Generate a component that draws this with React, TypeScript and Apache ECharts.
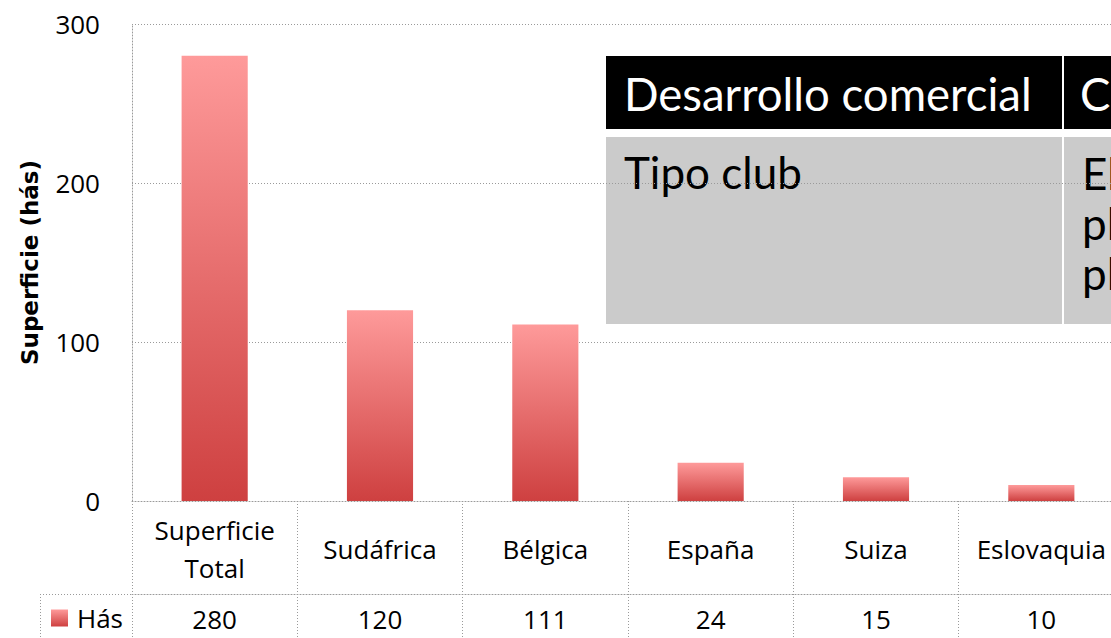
import React, { useEffect, useRef } from "react";
import * as echarts from "echarts";

const categories = ["Superficie\nTotal", "Sudáfrica", "Bélgica", "España", "Suiza", "Eslovaquia"];
const hasValues = [280, 120, 111, 24, 15, 10];
const yTicks = { min: 0, max: 300, interval: 100 };
const seriesName = "Hás";
const yTitle = "Superficie (hás)";
const overlayHeader = ["Desarrollo comercial", "Co"];
const overlayRow = ["Tipo club", "El\npl\npl"];

const FONT = "'Open Sans', Lato, sans-serif";
const BIG = "Lato, 'Open Sans', sans-serif";
const GRID = "#9a9a9a";

export default function App() {
  const ref = useRef<HTMLDivElement>(null);
  useEffect(() => {
    if (!ref.current) return;
    const chart = echarts.init(ref.current, undefined, { renderer: "svg" });
    const grad = new echarts.graphic.LinearGradient(0, 0, 0, 1, [
      { offset: 0, color: "#FE9A9A" },
      { offset: 1, color: "#CE4040" },
    ]);
    const dotted = { color: GRID, width: 1, type: [1, 2] as any };
    chart.setOption({
      animation: false,
      backgroundColor: "#ffffff",
      grid: { left: 132, top: 24, right: 16, height: 477 },
      legend: {
        left: 51,
        top: 605,
        padding: 0,
        icon: "rect",
        itemWidth: 17,
        itemHeight: 17,
        textStyle: { fontFamily: FONT, fontSize: 26, color: "#000", padding: [0, 0, 0, 4] },
        data: [seriesName],
      },
      xAxis: [
        {
          type: "category",
          data: categories,
          position: "bottom",
          axisLine: { show: true, lineStyle: dotted },
          axisTick: { show: true, length: 93, lineStyle: dotted },
          axisLabel: {
            margin: 48,
            verticalAlign: "middle",
            fontFamily: FONT,
            fontSize: 26,
            lineHeight: 38,
            color: "#000",
            interval: 0,
          },
        },
        {
          type: "category",
          data: hasValues.map(String),
          position: "bottom",
          offset: 93,
          axisLine: { show: true, lineStyle: dotted },
          axisTick: { show: true, length: 60, lineStyle: dotted },
          axisLabel: {
            margin: 25,
            verticalAlign: "middle",
            fontFamily: FONT,
            fontSize: 26,
            color: "#000",
            interval: 0,
          },
        },
      ],
      yAxis: {
        type: "value",
        min: yTicks.min,
        max: yTicks.max,
        interval: yTicks.interval,
        name: yTitle,
        nameLocation: "middle",
        nameGap: 91,
        nameTextStyle: { fontFamily: "'DejaVu Sans', sans-serif", fontSize: 23, fontWeight: "bold", color: "#000" },
        axisLine: { show: true, lineStyle: dotted },
        axisTick: { show: false },
        axisLabel: { margin: 32, fontFamily: FONT, fontSize: 26, color: "#000" },
        splitLine: { show: true, lineStyle: dotted },
      },
      series: [
        {
          name: seriesName,
          type: "bar",
          data: hasValues,
          barWidth: "40%",
          itemStyle: { color: grad },
        },
      ],
      graphic: [
        { type: "line", shape: { x1: 40, y1: 594.5, x2: 132, y2: 594.5 }, style: { stroke: GRID, lineWidth: 1, lineDash: [1, 2] } },
        { type: "line", shape: { x1: 40.5, y1: 594, x2: 40.5, y2: 660 }, style: { stroke: GRID, lineWidth: 1, lineDash: [1, 2] } },
        { type: "rect", shape: { x: 606, y: 56, width: 456, height: 73 }, style: { fill: "#000" } },
        { type: "rect", shape: { x: 1064, y: 56, width: 200, height: 73 }, style: { fill: "#000" } },
        { type: "rect", shape: { x: 606, y: 137, width: 456, height: 187 }, style: { fill: "#CBCBCB" } },
        { type: "rect", shape: { x: 1064, y: 137, width: 200, height: 187 }, style: { fill: "#CBCBCB" } },
        { type: "text", x: 624, y: 93, style: { text: overlayHeader[0], fill: "#fff", font: `45.5px ${BIG}`, verticalAlign: "middle" } },
        { type: "text", x: 1080, y: 93, style: { text: overlayHeader[1], fill: "#fff", font: `45.5px ${BIG}`, verticalAlign: "middle" } },
        { type: "text", x: 624, y: 172, style: { text: overlayRow[0], fill: "#000", font: `44px ${BIG}`, verticalAlign: "middle" } },
        { type: "text", x: 1082, y: 148, style: { text: overlayRow[1], fill: "#000", font: `44px ${BIG}`, lineHeight: 50, verticalAlign: "top" } },
      ],
    });
    return () => chart.dispose();
  }, []);
  return (
    <div style={{ position: "fixed", left: 0, top: 0, width: 1111, height: 638, overflow: "hidden", background: "#fff" }}>
      <div ref={ref} style={{ width: 1140, height: 660 }} />
    </div>
  );
}
